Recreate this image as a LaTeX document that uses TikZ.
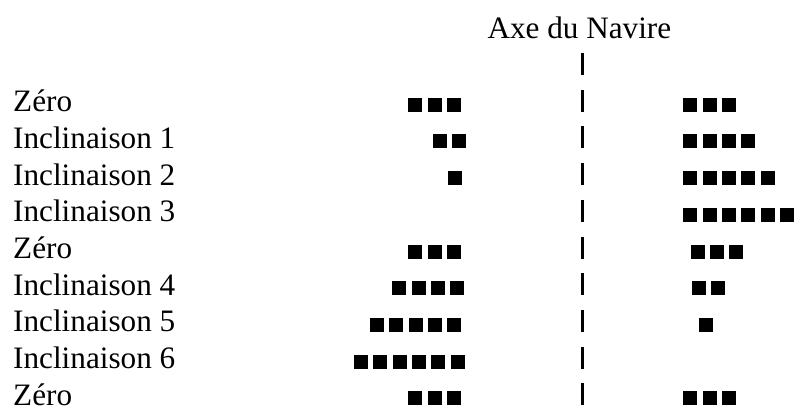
\documentclass[tikz,border=0pt]{standalone}
\usepackage{fontspec}
\setmainfont{Liberation Serif}
\usetikzlibrary{calc}

\begin{document}
\begin{tikzpicture}[x=0.3846pt,y=-0.3846pt,
  lbl/.style={anchor=base west,inner sep=0pt,font=\fontsize{12}{14}\selectfont}]
  \useasboundingbox (0,0) rectangle (795,408);
  \node[lbl] (T) at (487,38.3) {Axe du Navire};
  \node[lbl] (R1) at (12.7,111.7) {Zéro};
  \node[lbl] (R2) at ($(R1.base west)+(0,36.7)$) {Inclinaison 1};
  \node[lbl] (R3) at ($(R2.base west)+(0,36.7)$) {Inclinaison 2};
  \node[lbl] (R4) at ($(R3.base west)+(0,36.7)$) {Inclinaison 3};
  \node[lbl] (R5) at ($(R4.base west)+(0,36.7)$) {Zéro};
  \node[lbl] (R6) at ($(R5.base west)+(0,36.7)$) {Inclinaison 4};
  \node[lbl] (R7) at ($(R6.base west)+(0,36.7)$) {Inclinaison 5};
  \node[lbl] (R8) at ($(R7.base west)+(0,36.7)$) {Inclinaison 6};
  \node[lbl] (R9) at ($(R8.base west)+(0,36.7)$) {Zéro};

  % axe
  \foreach \r in {0,...,9}
    \fill (581,{75+\r*36.7}) rectangle ++(2.5,-22);
  % gauche
  \foreach \r/\s/\n in {1/408.3/3,2/432.7/2,3/448.3/1,5/408.3/3,6/392.3/4,7/370/5,8/354/6,9/408.3/3}
    \foreach \i in {1,...,\n}
      \fill ({\s+(\i-1)*19.3},{111.7+(\r-1)*36.7}) rectangle ++(14,-14);
  % droite
  \foreach \r/\s/\n in {1/683.3/3,2/683.3/4,3/683.3/5,4/683.3/6,5/690.7/3,6/691.7/2,7/699.3/1,9/683.3/3}
    \foreach \i in {1,...,\n}
      \fill ({\s+(\i-1)*19.3},{111.7+(\r-1)*36.7}) rectangle ++(14,-14);
\end{tikzpicture}
\end{document}
